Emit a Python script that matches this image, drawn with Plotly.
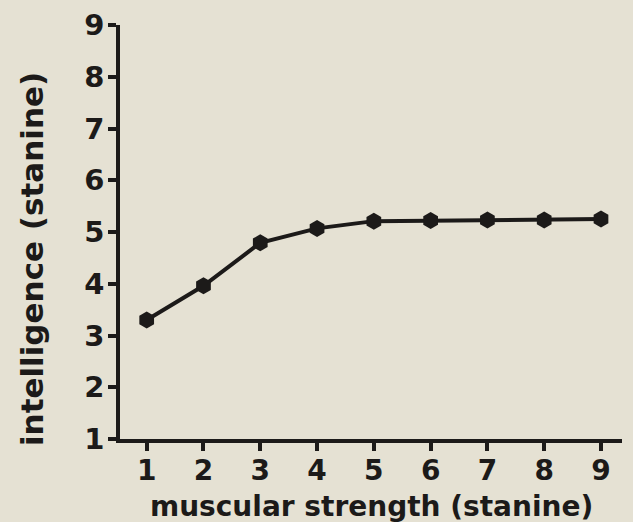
import plotly.graph_objects as go

strength = [1, 2, 3, 4, 5, 6, 7, 8, 9]
intelligence = [3.30, 3.96, 4.79, 5.07, 5.21, 5.22, 5.23, 5.23, 5.25]
x_ticks = [1, 2, 3, 4, 5, 6, 7, 8, 9]
y_ticks = [1, 2, 3, 4, 5, 6, 7, 8, 9]
x_title = "muscular strength (stanine)"
y_title = "intelligence (stanine)"

bg = "#e5e1d3"
ink = "#1c1a19"
font = "DejaVu Sans, Arial, sans-serif"

fig = go.Figure()
fig.add_trace(go.Scatter(
    x=strength, y=intelligence, mode="lines+markers",
    line=dict(color=ink, width=4),
    marker=dict(symbol="hexagon", size=17, color=ink),
    showlegend=False, cliponaxis=False,
))

fig.update_layout(
    width=633, height=522,
    paper_bgcolor=bg, plot_bgcolor=bg,
    margin=dict(l=120, r=11, t=25, b=83),
    font=dict(family=font, color=ink),
    annotations=[
        dict(text=f"<b>{x_title}</b>", xref="paper", yref="paper", x=0.5, y=-0.162,
             xanchor="center", yanchor="middle", showarrow=False,
             font=dict(size=28, family=font, color=ink)),
        dict(text=f"<b>{y_title}</b>", xref="paper", yref="paper", x=-0.175, y=0.435,
             xanchor="center", yanchor="middle", showarrow=False, textangle=-90,
             font=dict(size=31, family=font, color=ink)),
    ],
)
fig.update_xaxes(
    range=[0.53, 9.37], tickvals=x_ticks, ticktext=[f"<b>{v}</b>" for v in x_ticks],
    showgrid=False, zeroline=False, showline=True, linecolor=ink, linewidth=3.5,
    ticks="outside", ticklen=8, tickwidth=3.5, tickcolor=ink, automargin=False,
    ticklabelstandoff=-4,
    tickfont=dict(size=28, family=font, color=ink),
)
fig.update_yaxes(
    range=[1, 9], tickvals=y_ticks, ticktext=[f"<b>{v}</b>" for v in y_ticks],
    showgrid=False, zeroline=False, showline=True, linecolor=ink, linewidth=3.5,
    ticks="outside", ticklen=8, tickwidth=3.5, tickcolor=ink, automargin=False,
    ticklabelstandoff=-2,
    tickfont=dict(size=29, family=font, color=ink),
)

fig.write_html("out.html", config={"displayModeBar": False},
               post_script="document.body.style.margin='0';")
